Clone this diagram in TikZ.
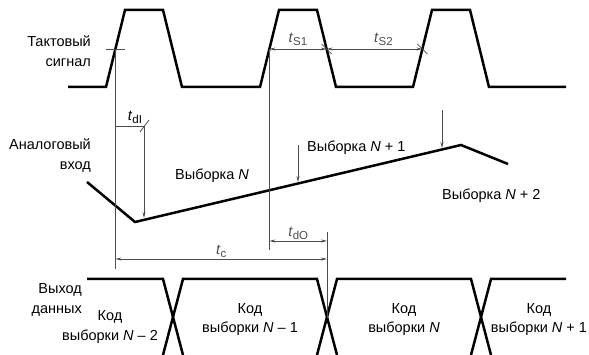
\documentclass[tikz,border=0pt]{standalone}
\usepackage{fontspec}
\setmainfont{Liberation Sans}
\usetikzlibrary{arrows.meta,calc}

\newcommand{\tsub}[1]{\raisebox{-2.5pt}{\fontsize{11.5}{12}\selectfont #1}}

\tikzset{
  signal/.style={line width=2.5pt, line join=miter},
  thinline/.style={line width=0.8pt, black!70},
  dimarrow/.style={thinline, {Stealth[length=6pt,width=3pt]}-{Stealth[length=6pt,width=3pt]}},
  onearrow/.style={thinline, -{Stealth[length=6pt,width=3pt]}},
  lbl/.style={font=\fontsize{14.5}{20}\selectfont, inner sep=0pt},
}

\begin{document}
\begin{tikzpicture}[x=1pt,y=-1pt]
\useasboundingbox (0,0) rectangle (589,355);

% Draw the clock signal
\draw[signal] (68,87) -- (106,87) -- (125,10) -- (163,10) -- (182,87) -- (260,87)
  -- (279,10) -- (317,10) -- (336,87) -- (413,87) -- (432,10) -- (470,10)
  -- (489,87) -- (566,87);

% Draw the analog input
\draw[signal] (87,182) -- (135,222) -- (461,145) -- (508,164);

% Draw the data output
\draw[signal] (87,279) -- (163,279) -- (183,355);
\draw[signal] (163,355) -- (183,279) -- (317,279) -- (337,355);
\draw[signal] (317,355) -- (337,279) -- (471,279) -- (491,355);
\draw[signal] (471,355) -- (491,279) -- (566,279);

% reference points on the edges
\coordinate (E1) at (115.4,49);
\coordinate (E2) at (269.4,49);
\coordinate (E3) at (326.6,49);
\coordinate (E4) at (422.4,49);

% tick marks
\draw[thinline] (106,49) -- (125,49);
\draw[thinline] ($(E3)+(-5,-5)$) -- ($(E3)+(5,5)$);
\draw[thinline] ($(E4)+(-5,-5)$) -- ($(E4)+(5,5)$);

% vertical guide lines
\coordinate (G1) at (115.4,269);
\coordinate (G2) at (269.4,250);
\coordinate (G3top) at (327,232);
\coordinate (G3) at (327,318);
\draw[thinline] (E1) -- (G1);
\draw[thinline] (E2) -- (G2);
\draw[thinline] (G3top) -- (G3);

% setup times
\draw[dimarrow] (E2) -- (E3) node[lbl,midway,anchor=base,yshift=6pt] (tS1) {\textit{t}\tsub{S1}};
\draw[dimarrow] (E3) -- (E4) node[lbl,midway,anchor=base,yshift=6pt,xshift=9pt] (tS2) {\textit{t}\tsub{S2}};

% input delay
\coordinate (dI1) at (115.4,126);
\coordinate (dI2) at (144,126);
\coordinate (S0) at (144,218);
\draw[thinline] (dI1) -- (dI2);
\draw[thinline] ($(dI2)+(-4,6)$) -- ($(dI2)+(5,-6)$);
\node[lbl,anchor=base] (tdI) at (135,121) {\textit{t}\tsub{dI}};
\draw[onearrow] (dI2) -- (S0);

% sample markers
\coordinate (S1top) at (298,145);
\coordinate (S1) at (298,182);
\coordinate (S2top) at (442,110);
\coordinate (S2) at (442,148);
\draw[onearrow] (S1top) -- (S1);
\draw[onearrow] (S2top) -- (S2);

% output delay and conversion time
\coordinate (dO1) at (269.4,241);
\coordinate (dO2) at (327,241);
\coordinate (c1) at (115.4,259);
\coordinate (c2) at (327,259);
\draw[dimarrow] (dO1) -- (dO2) node[lbl,midway,anchor=base,yshift=4pt] (tdO) {\textit{t}\tsub{dO}};
\draw[dimarrow] (c1) -- (c2) node[lbl,midway,anchor=base,yshift=4pt] (tc) {\textit{t}\tsub{c}};

% Labels
\node[lbl,anchor=base east,align=right] (clk) at (91,67) {Тактовый\\сигнал};
\node[lbl,anchor=base east,align=right] (ain) at (91,170) {Аналоговый\\вход};
\node[lbl,anchor=base east,align=right] (dout) at (82,313) {Выход\\данных};
\node[lbl,anchor=base west] (smpN) at (175,180) {Выборка \textit{N}};
\node[lbl,anchor=base west] (smpN1) at (307,152) {Выборка \textit{N}\;+\;1};
\node[lbl,anchor=base west] (smpN2) at (442,200) {Выборка \textit{N}\;+\;2};
\node[lbl,anchor=base,align=center] (codeA) at (110,341) {Код\\выборки \textit{N}\;–\;2};
\node[lbl,anchor=base,align=center] (codeB) at (250,333) {Код\\выборки \textit{N}\;–\;1};
\node[lbl,anchor=base,align=center] (codeC) at (404,333) {Код\\выборки \textit{N}};
\node[lbl,anchor=base,align=center] (codeD) at (539,333) {Код\\выборки \textit{N}\;+\;1};

\end{tikzpicture}
\end{document}
